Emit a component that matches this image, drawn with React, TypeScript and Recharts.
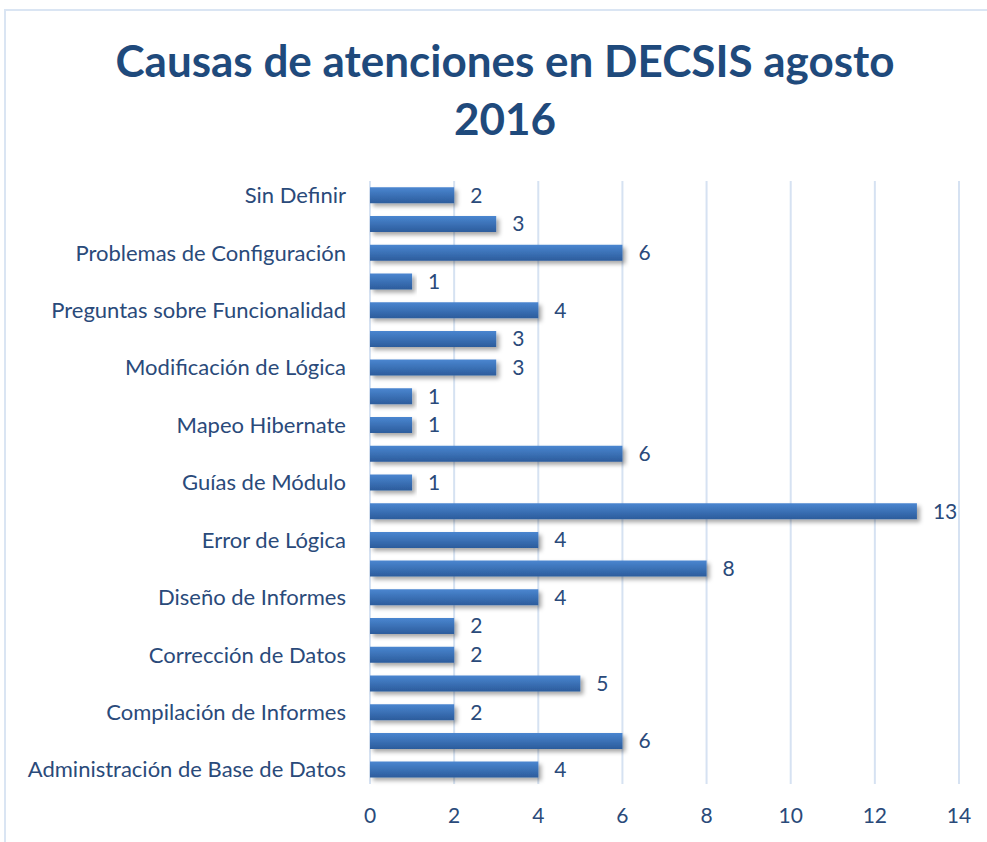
import { BarChart, Bar, XAxis, YAxis, CartesianGrid, LabelList, Rectangle } from "recharts"

// categorías de arriba hacia abajo (solo se muestra una de cada dos etiquetas)
const categories = [
  "Sin Definir ",
  "Reportes de Usuario",
  "Problemas de Configuración",
  "Problemas de Acceso",
  "Preguntas sobre Funcionalidad",
  "Permisos de Usuario",
  "Modificación de Lógica",
  "Migración de Datos",
  "Mapeo Hibernate",
  "Instalación de Sistema",
  "Guías de Módulo",
  "Generación de Reportes",
  "Error de Lógica",
  "Error de Datos",
  "Diseño de Informes",
  "Desarrollo de Módulo",
  "Corrección de Datos",
  "Consultas de Datos",
  "Compilación de Informes",
  "Capacitación de Usuarios",
  "Administración de Base de Datos",
]

const counts = [2, 3, 6, 1, 4, 3, 3, 1, 1, 6, 1, 13, 4, 8, 4, 2, 2, 5, 2, 6, 4]

const xTicks = [0, 2, 4, 6, 8, 10, 12, 14]

const data = categories.map((name, i) => ({ name, value: counts[i] }))

const FONT = "Lato, 'Open Sans', sans-serif"
const TEXT = "#2a4a7a"

function ShadowBar(props: any) {
  return <Rectangle {...props} fill="url(#barGrad)" filter="url(#barShadow)" />
}

export default function App() {
  return (
    <div style={{ position: "fixed", left: 0, top: 0, width: 987, height: 842, overflow: "hidden", background: "#fff", fontFamily: FONT }}>
      {/* marco del gráfico: solo se ven los bordes izquierdo y superior */}
      <div
        style={{
          position: "absolute",
          left: 4,
          top: 9,
          width: 1100,
          height: 900,
          borderLeft: "2px solid #dae5f3",
          borderTop: "2px solid #dae5f3",
        }}
      />
      <div
        style={{
          position: "absolute",
          left: 4,
          top: 31,
          width: 1002,
          textAlign: "center",
          color: "#1f4a7c",
          fontWeight: 700,
          fontSize: 44,
          lineHeight: "58px",
        }}
      >
        <div>Causas de atenciones en DECSIS agosto</div>
        <div>2016</div>
      </div>
      <div style={{ position: "absolute", left: 0, top: 0 }}>
        <BarChart
          width={987}
          height={842}
          data={data}
          layout="vertical"
          barCategoryGap="22%"
          margin={{ top: 181, right: 28, bottom: 28, left: 0 }}
        >
          <defs>
            <linearGradient id="barGrad" x1="0" y1="0" x2="0" y2="1">
              <stop offset="0%" stopColor="#4a86d0" />
              <stop offset="100%" stopColor="#2c5c9c" />
            </linearGradient>
            <filter id="barShadow" x="-5%" y="-30%" width="115%" height="190%">
              <feDropShadow dx="3" dy="3" stdDeviation="2" floodColor="#000" floodOpacity="0.35" />
            </filter>
          </defs>
          <CartesianGrid horizontal={false} stroke="#d6e2f2" strokeWidth={2} />
          <XAxis
            type="number"
            domain={[0, 14]}
            ticks={xTicks}
            axisLine={false}
            tickLine={false}
            tickMargin={18}
            tick={{ fill: TEXT, fontSize: 21, fontFamily: FONT }}
          />
          <YAxis
            type="category"
            dataKey="name"
            width={370}
            interval={1}
            axisLine={false}
            tickLine={false}
            tickMargin={18}
            tick={{ fill: TEXT, fontSize: 22, fontFamily: FONT }}
          />
          <Bar dataKey="value" isAnimationActive={false} shape={ShadowBar}>
            <LabelList dataKey="value" position="right" offset={16} fill={TEXT} fontSize={21} fontFamily={FONT} />
          </Bar>
        </BarChart>
      </div>
    </div>
  )
}
